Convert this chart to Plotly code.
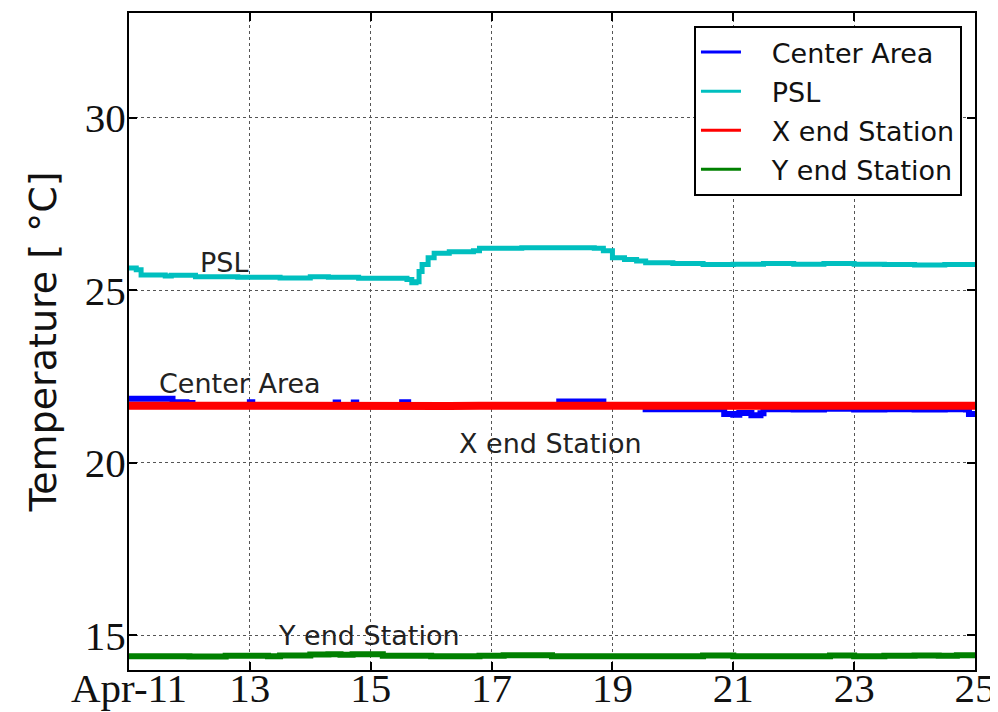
import plotly.graph_objects as go

# ---------------- data (days of April) ----------------
days_psl = [11.0, 11.12, 11.20, 11.60, 11.70, 12.10, 12.80, 13.50, 14.00, 14.30, 14.80, 15.20,
            15.60, 15.68, 15.75, 15.80, 15.85, 15.95, 16.05, 16.30, 16.70, 16.80, 17.50, 18.20,
            18.70, 18.85, 19.00, 19.20, 19.40, 19.55, 20.00, 20.50, 21.00, 21.50, 22.00, 22.50,
            23.00, 23.50, 24.00, 24.50, 25.00]
vals_psl = [25.65, 25.60, 25.45, 25.42, 25.44, 25.40, 25.38, 25.36, 25.40, 25.38, 25.35, 25.35,
            25.32, 25.22, 25.25, 25.55, 25.75, 25.95, 26.08, 26.12, 26.15, 26.22, 26.24, 26.24,
            26.22, 26.15, 25.95, 25.90, 25.85, 25.80, 25.78, 25.75, 25.76, 25.78, 25.76, 25.78,
            25.76, 25.75, 25.74, 25.75, 25.73]

days_center = [11.0, 11.68, 11.72, 11.95, 12.05, 12.98, 13.0, 13.04, 14.4, 14.42, 14.46, 14.7,
               14.72, 14.76, 15.5, 15.52, 15.62, 17.0, 18.1, 18.12, 18.8, 18.85, 19.5, 19.55,
               20.2, 20.8, 20.85, 21.0, 21.1, 21.3, 21.45, 21.5, 22.0, 22.5, 23.0, 23.5, 24.0,
               24.5, 24.85, 24.9, 25.0]
vals_center = [21.86, 21.86, 21.76, 21.74, 21.66, 21.66, 21.76, 21.66, 21.66, 21.75, 21.66, 21.66,
               21.75, 21.66, 21.66, 21.76, 21.66, 21.66, 21.66, 21.78, 21.78, 21.66, 21.66, 21.56,
               21.56, 21.56, 21.42, 21.40, 21.45, 21.38, 21.44, 21.56, 21.55, 21.57, 21.55, 21.56,
               21.55, 21.56, 21.55, 21.42, 21.45]

days_xend = [11.0, 11.9, 12.3, 13.5, 14.5, 14.7, 15.2, 15.6, 15.9, 16.3, 16.8, 17.5, 18.5, 19.5,
             20.5, 21.5, 22.5, 23.5, 24.5, 25.0]
vals_xend = [21.66, 21.63, 21.66, 21.66, 21.64, 21.66, 21.63, 21.62, 21.66, 21.65, 21.66, 21.66,
             21.66, 21.65, 21.66, 21.66, 21.65, 21.66, 21.66, 21.66]

days_yend = [11.0, 12.0, 12.6, 13.3, 13.5, 14.0, 14.3, 14.5, 14.7, 15.2, 16.0, 16.8, 17.2, 18.0,
             19.0, 20.0, 20.5, 21.0, 22.0, 22.6, 23.0, 23.5, 24.0, 24.4, 24.7, 25.0]
vals_yend = [14.40, 14.39, 14.41, 14.40, 14.42, 14.45, 14.46, 14.44, 14.46, 14.41, 14.40, 14.41,
             14.43, 14.40, 14.40, 14.40, 14.42, 14.40, 14.40, 14.42, 14.40, 14.41, 14.42, 14.41,
             14.43, 14.41]

tick_vals = [11, 13, 15, 17, 19, 21, 23, 25]
tick_text = ["Apr-11", "13", "15", "17", "19", "21", "23", "25"]
y_ticks = [15, 20, 25, 30]

series = [
    ("Center Area", days_center, vals_center, "#0000ff", 6, "hv"),
    ("PSL", days_psl, vals_psl, "#00bfbf", 5, "hv"),
    ("X end Station", days_xend, vals_xend, "#ff0000", 8, "linear"),
    ("Y end Station", days_yend, vals_yend, "#008000", 6, "hv"),
]

fig = go.Figure()
for name, xs, ys, col, w, shp in series:
    fig.add_trace(go.Scatter(x=xs, y=ys, mode="lines", name=name, legendgroup=name,
                             showlegend=False, line=dict(color=col, width=w, shape=shp)))
for name, xs, ys, col, w, shp in series:
    fig.add_trace(go.Scatter(x=[None], y=[None], mode="lines", legendgroup=name,
                             name="\u00a0\u00a0\u00a0" + name, showlegend=True,
                             line=dict(color=col, width=3)))

ann_font = dict(family="DejaVu Sans", size=27, color="#222")
annos = [("PSL", 12.57, 25.80), ("Center Area", 12.84, 22.30),
         ("X end Station", 17.97, 20.56), ("Y end Station", 14.97, 15.0)]
for t, ax_, ay_ in annos:
    fig.add_annotation(x=ax_, y=ay_, xref="x", yref="y", text=t, showarrow=False,
                       font=ann_font, xanchor="center", yanchor="middle")

axis_common = dict(showline=True, linecolor="black", linewidth=2, mirror="ticks",
                   ticks="inside", ticklen=8, tickwidth=1.5, tickcolor="black",
                   showgrid=True, gridcolor="#555", gridwidth=1, griddash="dot",
                   zeroline=False, automargin=False,
                   tickfont=dict(family="Liberation Serif", size=41, color="#111"))

fig.update_xaxes(range=[11, 25], tickmode="array", tickvals=tick_vals, ticktext=tick_text,
                 ticklabelstandoff=-19, **axis_common)
fig.update_yaxes(range=[14.0, 33.04], tickmode="array", tickvals=y_ticks,
                 ticklabelstandoff=-7,
                 title=dict(text="Temperature [ °C]", font=dict(family="DejaVu Sans", size=38, color="#111"),
                            standoff=16),
                 **axis_common)

# page has an 8px body margin: figure is drawn from (8, 8) in the 998x712 window
fig.update_layout(
    width=990, height=704,
    margin=dict(l=121, r=23, t=5, b=42),
    paper_bgcolor="white", plot_bgcolor="white",
    showlegend=True,
    legend=dict(x=0.9846, y=0.9802, xanchor="right", yanchor="top",
                bgcolor="white", bordercolor="black", borderwidth=2,
                font=dict(family="DejaVu Sans", size=27, color="#111"),
                tracegroupgap=1, itemwidth=40),
)

fig.write_html("out.html")
